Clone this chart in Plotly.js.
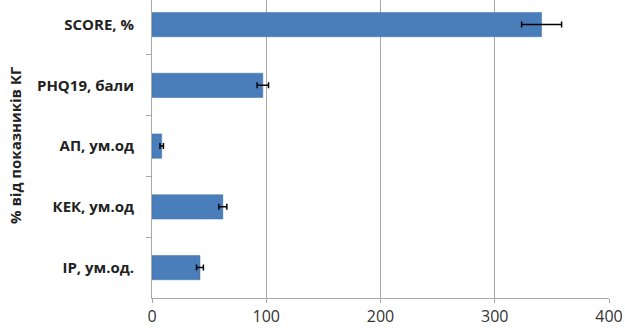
<!DOCTYPE html>
<html>
<head>
<meta charset="utf-8">
<script src="https://cdn.plot.ly/plotly-3.0.1.min.js"></script>
<style>html,body{margin:0;padding:0;background:#fff;}#chart{width:625px;height:329px;}</style>
</head>
<body>
<div id="chart"></div>
<script>
const categories = ['SCORE, %', 'PHQ19, бали', 'АП, ум.од', 'КЕК, ум.од', 'ІР, ум.од.'];
const values = [341, 97, 8.5, 62, 42];
const errors = [17.5, 5, 1.5, 3.5, 3];
const xTicks = [0, 100, 200, 300, 400];
const yTitle = '% від показників КГ';

const trace = {
  type: 'bar',
  orientation: 'h',
  x: values,
  y: categories,
  width: 0.4,
  marker: {color: '#4a7ebb', line: {color: '#3f6fa8', width: 0.5}},
  error_x: {type: 'data', array: errors, visible: true, color: '#000', thickness: 1.5, width: 3},
  hoverinfo: 'none'
};

const layout = {
  width: 625, height: 329,
  margin: {l: 152, r: 16, t: 0, b: 31},
  paper_bgcolor: '#fff', plot_bgcolor: '#fff',
  showlegend: false,
  font: {family: 'Open Sans, sans-serif', color: '#222'},
  xaxis: {
    range: [0, 400], tickvals: xTicks, ticktext: xTicks.map(String),
    showgrid: true, gridcolor: '#a8a8a8', gridwidth: 1,
    zeroline: false, showline: true, linecolor: '#a8a8a8', linewidth: 1,
    ticks: 'outside', ticklen: 4, tickcolor: '#a8a8a8',
    tickfont: {size: 16, color: '#333'}, fixedrange: true
  },
  yaxis: {
    type: 'category', categoryorder: 'array', categoryarray: categories,
    range: [4.5, -0.405],
    showgrid: false, zeroline: false, showline: true, linecolor: '#a8a8a8', linewidth: 1,
    ticks: 'outside', tickson: 'boundaries', ticklen: 5, tickcolor: '#a8a8a8',
    tickfont: {size: 15, color: '#222', weight: 'bold'},
    ticklabelstandoff: 14, fixedrange: true
  },
  annotations: [{
    text: yTitle, xref: 'paper', yref: 'paper', x: (15 - 152) / 457, xanchor: 'center',
    y: 1 - 145 / 298, yanchor: 'middle', textangle: -90, showarrow: false,
    font: {size: 15, color: '#222', weight: 'bold'}
  }]
};

Plotly.newPlot('chart', [trace], layout, {staticPlot: true, displayModeBar: false});
</script>
</body>
</html>
